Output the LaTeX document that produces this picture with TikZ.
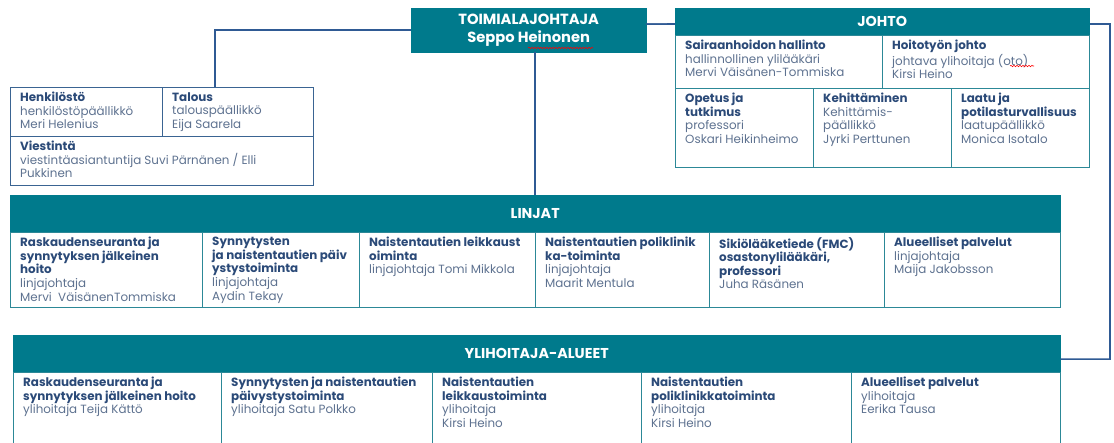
\documentclass[tikz,border=0pt]{standalone}
\usepackage{fontspec}
\setmainfont{Poppins}
\usepackage{xcolor}
\usetikzlibrary{positioning,decorations.pathmorphing}
\definecolor{hdteal}{HTML}{007A8C}
\definecolor{navytxt}{HTML}{2B4A78}
\definecolor{bodytxt}{HTML}{5E7290}
\definecolor{cellline}{HTML}{2C8897}
\definecolor{grpline}{HTML}{3A6492}
\definecolor{lineblue}{HTML}{2F5A94}
\newcommand{\hd}[1]{{\bfseries\color{navytxt}#1}}
\tikzset{
  conn/.style={draw=lineblue, line width=1.6pt},
  head/.style={fill=hdteal, draw=hdteal, text=white, anchor=north west, inner sep=0pt,
    font=\bfseries\fontsize{14.3}{17}\selectfont},
  cell/.style={draw=cellline, fill=white, line width=1.1pt, anchor=north west, inner sep=0pt},
  grp/.style={cell, draw=grpline},
  celltext/.style={anchor=north west, align=left, inner sep=0pt, text=bodytxt,
    xshift=10pt, yshift=-5pt, font=\fontsize{11.9}{13.6}\selectfont},
  squig/.style={draw=red, line width=0.6pt, decorate,
    decoration={snake, segment length=3pt, amplitude=0.7pt}},
}

\begin{document}
\begin{tikzpicture}[x=1pt,y=-1pt]
  \useasboundingbox[fill=white] (0,0) rectangle (1114,443);

  % top
  \node[head, minimum width=235pt, minimum height=44pt, align=center, text depth=3pt,
    font=\bfseries\fontsize{14.7}{18}\selectfont] (toim) at (411,8) {TOIMIALAJOHTAJA\\Seppo Heinonen};
  \coordinate (stafftop) at (215,87);
  \coordinate (rt) at (1110,24);

  % lines behind the boxes
  \draw[conn] (toim.west) -| (stafftop);

  % staff group
  \node[grp, minimum width=152pt, minimum height=49pt,
    label={[celltext]north west:{\hd{Henkilöstö}\\henkilöstöpäällikkö\\Meri Helenius}}] (henk) at (10,87) {};
  \node[grp, minimum width=151pt, minimum height=49pt,
    label={[celltext]north west:{\hd{Talous}\\talouspäällikkö\\Eija Saarela}}] (talous) at (162,87) {};
  \node[grp, minimum width=303pt, minimum height=49pt,
    label={[celltext]north west:{\hd{Viestintä}\\viestintäasiantuntija Suvi Pärnänen / Elli\\Pukkinen}}] (viest) at (10,136) {};

  % LINJAT
  \node[head, minimum width=1050pt, minimum height=37pt] (linhead) at (10,195) {LINJAT};
  \draw[conn] (toim.south -| linhead.north) -- (linhead.north);
  \node[cell, minimum width=192pt, minimum height=75pt,
    label={[celltext]north west:{\hd{Raskaudenseuranta ja}\\\hd{synnytyksen jälkeinen}\\\hd{hoito}\\linjajohtaja\\Mervi\ \ VäisänenTommiska}}] (lin1) at (10,232) {};
  \node[cell, minimum width=157pt, minimum height=75pt,
    label={[celltext]north west:{\hd{Synnytysten}\\\hd{ja naistentautien päiv}\\\hd{ystystoiminta}\\linjajohtaja\\Aydin Tekay}}] (lin2) at (202,232) {};
  \node[cell, minimum width=176pt, minimum height=75pt,
    label={[celltext]north west:{\hd{Naistentautien leikkaust}\\\hd{oiminta}\\linjajohtaja Tomi Mikkola}}] (lin3) at (359,232) {};
  \node[cell, minimum width=174pt, minimum height=75pt,
    label={[celltext]north west:{\hd{Naistentautien poliklinik}\\\hd{ka-toiminta}\\linjajohtaja\\Maarit Mentula}}] (lin4) at (535,232) {};
  \node[cell, minimum width=175pt, minimum height=75pt,
    label={[celltext]north west:{\hd{Sikiölääketiede (FMC)}\\\hd{osastonylilääkäri,}\\\hd{professori}\\Juha Räsänen}}] (lin5) at (709,232) {};
  \node[cell, minimum width=176pt, minimum height=75pt,
    label={[celltext]north west:{\hd{Alueelliset palvelut}\\linjajohtaja\\Maija Jakobsson}}] (lin6) at (884,232) {};

  % YLIHOITAJA-ALUEET
  \node[head, minimum width=1047pt, minimum height=37pt] (ylihead) at (13,335) {YLIHOITAJA-ALUEET};
  \draw[conn] ([yshift=6pt]toim.east) -- (rt) |- ([yshift=-5.5pt]ylihead.east);
  \node[cell, minimum width=208pt, minimum height=80pt,
    label={[celltext]north west:{\hd{Raskaudenseuranta ja}\\\hd{synnytyksen jälkeinen hoito}\\ylihoitaja Teija Kättö}}] (yli1) at (13,372) {};
  \node[cell, minimum width=211pt, minimum height=80pt,
    label={[celltext]north west:{\hd{Synnytysten ja naistentautien}\\\hd{päivystystoiminta}\\ylihoitaja Satu Polkko}}] (yli2) at (221,372) {};
  \node[cell, minimum width=209pt, minimum height=80pt,
    label={[celltext]north west:{\hd{Naistentautien}\\\hd{leikkaustoiminta}\\ylihoitaja\\Kirsi Heino}}] (yli3) at (432,372) {};
  \node[cell, minimum width=210pt, minimum height=80pt,
    label={[celltext]north west:{\hd{Naistentautien}\\\hd{poliklinikkatoiminta}\\ylihoitaja\\Kirsi Heino}}] (yli4) at (641,372) {};
  \node[cell, minimum width=209pt, minimum height=80pt,
    label={[celltext]north west:{\hd{Alueelliset palvelut}\\ylihoitaja\\Eerika Tausa}}] (yli5) at (851,372) {};

  % JOHTO
  \node[head, minimum width=414pt, minimum height=27pt] (johto) at (675,8) {JOHTO};
  \draw[conn] ([yshift=6pt]toim.east) -- (johto.west |- rt);
  \node[cell, minimum width=207pt, minimum height=53pt,
    label={[celltext]north west:{\hd{Sairaanhoidon hallinto}\\hallinnollinen ylilääkäri\\Mervi Väisänen-Tommiska}}] (saira) at (675,35) {};
  \node[cell, minimum width=207pt, minimum height=53pt,
    label={[celltext]north west:{\hd{Hoitotyön johto}\\johtava ylihoitaja (oto)\\Kirsi Heino}}] (hoito) at (882,35) {};
  \node[cell, minimum width=138pt, minimum height=79pt,
    label={[celltext]north west:{\hd{Opetus ja}\\\hd{tutkimus}\\professori\\Oskari Heikinheimo}}] (opetus) at (675,88) {};
  \node[cell, minimum width=138pt, minimum height=79pt,
    label={[celltext]north west:{\hd{Kehittäminen}\\Kehittämis-\\päällikkö\\Jyrki Perttunen}}] (kehit) at (813,88) {};
  \node[cell, minimum width=138pt, minimum height=79pt,
    label={[celltext]north west:{\hd{Laatu ja}\\\hd{potilasturvallisuus}\\laatupäällikkö\\Monica Isotalo}}] (laatu) at (951,88) {};

  % spell-check marks
  \draw[squig] (528,48) -- (593,48);
  \draw[squig] (1010,66) -- (1034,66);
\end{tikzpicture}
\end{document}
